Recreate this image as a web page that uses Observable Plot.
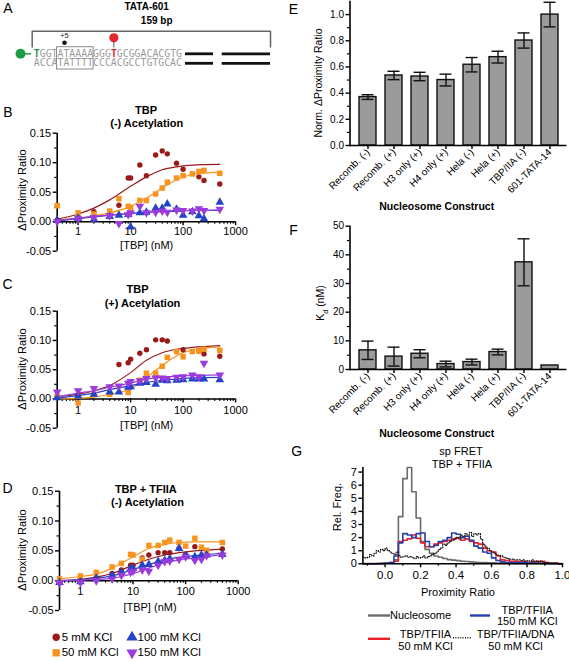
<!DOCTYPE html>
<html><head><meta charset="utf-8">
<script src="https://cdn.jsdelivr.net/npm/d3@7"></script>
<script src="https://cdn.jsdelivr.net/npm/@observablehq/plot@0.6"></script>
<style>
body{margin:0;background:#fff;}
#fig{position:relative;width:569px;height:662px;overflow:hidden;font-family:"Liberation Sans",Arial,sans-serif;color:#000;background:#fff;}
#fig svg{position:absolute;overflow:visible;}
.t{position:absolute;white-space:nowrap;line-height:1;}
</style></head><body><div id="fig"></div>
<script>
// ---------------- DATA ----------------
// Panel A
const topStrand = "TGGTATAAAAGGGTGCGGACACGTG";
const bottomStrand = "ACCATATTTTCCCACGCCTGTGCAC";

// Panels B-D: titration concentrations (nM)
const conc = [0.4, 1, 2, 4, 6, 9, 10, 15, 20, 30, 40, 50, 75, 100, 150, 200, 250, 500];
const kclLabels = ["5 mM KCl", "50 mM KCl", "100 mM KCl", "150 mM KCl"];

// Panel B: TBP (-) Acetylation
const B_5   = [0.003, 0.008, 0.017, null, 0.028, 0.074, 0.074, 0.096, 0.078, 0.113, 0.120, 0.115, 0.099, 0.089, null, 0.076, 0.070, 0.064];
const B_50  = [0.027, 0.015, 0.013, 0.018, 0.039, 0.026, 0.024, 0.036, 0.036, 0.047, 0.057, 0.067, 0.074, 0.078, 0.081, 0.085, 0.087, 0.082];
const B_100 = [0.002, 0.006, 0.004, 0.009, 0.011, 0.012, -0.009, 0.015, 0.016, 0.023, 0.023, 0.030, 0.021, 0.011, 0.017, 0.010, 0.005, 0.033];
const B_150 = [0.000, 0.005, 0.007, 0.010, -0.003, 0.012, 0.015, 0.026, 0.015, 0.016, 0.018, 0.016, 0.020, 0.019, 0.018, 0.022, 0.019, 0.021];
// Panel C: TBP (+) Acetylation
const C_5   = [0.005, 0.007, null, 0.010, 0.059, 0.062, 0.068, 0.078, 0.084, 0.101, 0.101, 0.099, null, 0.084, null, 0.082, 0.077, 0.073];
const C_50  = [0.005, -0.007, 0.008, 0.008, null, 0.011, null, 0.032, 0.044, 0.044, 0.056, 0.071, 0.081, 0.072, 0.081, 0.082, 0.085, 0.083];
const C_100 = [0.002, 0.005, 0.008, 0.012, 0.012, 0.020, 0.021, 0.027, 0.028, 0.025, 0.032, 0.031, 0.032, 0.033, 0.034, 0.034, 0.034, 0.033];
const C_150 = [0.012, 0.014, 0.018, 0.021, 0.022, 0.027, 0.030, 0.031, 0.035, 0.036, 0.036, 0.035, 0.037, 0.038, 0.041, 0.038, 0.061, 0.041];
// Panel D: TBP + TFIIA (-) Acetylation
const D_5   = [-0.002, 0.003, 0.005, 0.012, 0.018, 0.026, 0.026, 0.038, 0.043, 0.047, 0.047, 0.047, 0.054, 0.044, 0.057, 0.037, null, 0.053];
const D_50  = [0.003, 0.008, 0.014, 0.023, 0.029, 0.044, 0.043, 0.036, 0.059, 0.059, 0.064, 0.068, 0.064, 0.058, 0.071, 0.056, 0.051, 0.064];
const D_100 = [-0.003, -0.002, 0.004, 0.009, 0.014, 0.020, 0.021, 0.026, 0.027, 0.032, 0.034, 0.037, 0.054, 0.042, 0.040, 0.043, 0.043, 0.044];
const D_150 = [-0.004, -0.003, 0.000, 0.003, 0.009, 0.014, 0.016, 0.018, 0.016, 0.026, 0.032, 0.033, 0.036, 0.040, 0.034, 0.036, 0.042, 0.043];

// Fitted curves, values at these concentrations
const fitConc = [0.4, 1, 2, 4, 10, 20, 40, 75, 150, 500];
const B_fit5   = [0.004, 0.013, 0.023, 0.037, 0.060, 0.076, 0.088, 0.093, 0.096, 0.097];
const B_fit50  = [0.003, 0.006, 0.010, 0.015, 0.026, 0.040, 0.057, 0.071, 0.080, 0.084];
const B_fit100 = [0.001, 0.005, 0.008, 0.011, 0.014, 0.016, 0.017, 0.018, 0.019, 0.019];
const B_fit150 = [0.002, 0.006, 0.009, 0.011, 0.014, 0.016, 0.018, 0.019, 0.019, 0.020];
const C_fit5   = [0.004, 0.008, 0.014, 0.023, 0.045, 0.066, 0.079, 0.085, 0.088, 0.091];
const C_fit50  = [0.000, 0.001, 0.003, 0.008, 0.017, 0.037, 0.057, 0.074, 0.084, 0.089];
const C_fit100 = [0.001, 0.006, 0.010, 0.016, 0.023, 0.028, 0.032, 0.034, 0.036, 0.037];
const C_fit150 = [0.004, 0.010, 0.014, 0.020, 0.027, 0.034, 0.037, 0.039, 0.040, 0.041];
const D_fit5   = [0.000, 0.002, 0.006, 0.012, 0.026, 0.036, 0.043, 0.047, 0.050, 0.053];
const D_fit50  = [0.003, 0.007, 0.011, 0.021, 0.040, 0.054, 0.061, 0.064, 0.065, 0.065];
const D_fit100 = [0.000, 0.002, 0.004, 0.008, 0.019, 0.027, 0.035, 0.039, 0.042, 0.046];
const D_fit150 = [0.000, 0.001, 0.002, 0.004, 0.012, 0.021, 0.030, 0.035, 0.038, 0.044];

// Panels E-F
const constructs = ["Recomb. (-)", "Recomb. (+)", "H3 only (+)", "H4 only (+)", "Hela (-)", "Hela (+)", "TBP/IIA (-)", "601-TATA-14"];
const normPR    = [0.370, 0.535, 0.527, 0.500, 0.617, 0.675, 0.802, 1.000];
const normPRerr = [0.018, 0.032, 0.032, 0.045, 0.055, 0.045, 0.058, 0.094];
const kd    = [6.7, 4.5, 5.5, 1.9, 2.6, 6.1, 37.4, 1.4];
const kdErr = [3.2, 3.3, 1.4, 1.0, 1.0, 1.0, 8.2, 0];

// Panel G: spFRET histograms (bins start at -0.125)
const histStart = -0.125;
const binWide = 0.025, binNarrow = 0.0125;
const histNucleosome = [0.02,0.02,0.02,0.03,0.03,0.05,0.08,0.3,3.6,6.5,7.35,5.5,3.5,1.7,1.1,0.8,0.6,0.5,0.4,0.32,0.28,0.24,0.2,0.17,0.15,0.12,0.1,0.09,0.08,0.07,0.06,0.05,0.04,0.04,0.03,0.03,0.03,0.02,0.02,0.02,0.02,0.01,0.01,0.01,0.01];
const histTFIIA150 = [0,0,0,0,0.02,0.05,0.1,0.6,1.6,2.3,2.2,2.0,2.3,2.35,1.7,1.3,1.4,1.7,1.8,2.0,2.35,2.25,2.0,2.1,1.8,1.35,1.2,0.9,0.8,0.45,0.25,0.15,0.1,0.1,0.08,0.1,0.1,0.05,0.05,0.05,0.03,0.03,0.02,0.02,0];
const histTFIIA50  = [0,0,0,0,0.02,0.05,0.1,0.2,1.7,1.8,1.9,2.2,1.95,1.6,1.3,1.3,1.5,1.6,1.7,1.8,1.9,2.0,1.8,1.9,1.7,1.6,1.5,1.2,1.0,0.9,0.6,0.3,0.25,0.2,0.2,0.15,0.15,0.1,0.15,0.2,0.2,0.1,0.05,0.05,0];
const histDNA50 = [0.5,0.45, 0.5,0.7,0.6,0.8, 1.0,0.9,1.1,1.0, 1.2,1.0,0.9,0.8, 0.7,0.9,0.6,0.5, 0.55,0.6,0.5,0.55, 0.5,0.4,0.55,0.45, 0.5,0.6,0.45,0.55, 0.6,0.7,0.8,0.9, 1.1,1.2,1.5,1.4, 1.6,1.7,1.8,1.9, 2.0,1.9,2.2,2.1, 2.3,2.2,2.4,2.1, 2.3,2.2,2.3,1.9, 1.5,1.3,1.2,1.0, 0.9,0.8,0.7,0.65, 0.6,0.5,0.45,0.4, 0.35,0.35,0.3,0.3, 0.3,0.25,0.3,0.2, 0.25,0.2,0.3,0.2, 0.2,0.15,0.2,0.1, 0.1,0.1,0.05,0.05, 0.05,0.05,0,0];
const gLegendNames = ["Nucleosome", "TBP/TFIIA\n150 mM KCl", "TBP/TFIIA\n50 mM KCl", "TBP/TFIIA/DNA\n50 mM KCl"];

// ---------------- STYLE ----------------
const FONT = "Liberation Sans, Arial, sans-serif";
const serColors = ["#9a1a1a", "#f7931e", "#2343c8", "#9b3bdc"];
const symDown = { draw(context, size) { const s3 = Math.sqrt(3); const y = -Math.sqrt(size / (s3 * 3)); context.moveTo(0, -y * 2); context.lineTo(-s3 * y, y); context.lineTo(s3 * y, y); context.closePath(); } };
const syms = ["circle", "square", "triangle", symDown];
const symR = [2.7, 3.1, 3.2, 3.2];
const ID = {type: "identity", axis: null};

const fig = document.getElementById("fig");
function place(svg, left, top) { svg.style.left = left + "px"; svg.style.top = top + "px"; fig.appendChild(svg); }
function txt(html, x, y, o = {}) {
  const d = document.createElement("div");
  d.className = "t";
  d.innerHTML = html;
  const size = o.size || 11, w = o.weight || "normal", rot = o.rotate || 0;
  d.style.left = x + "px"; d.style.top = y + "px";
  d.style.fontSize = size + "px"; d.style.fontWeight = w;
  d.style.transform = `translate(-50%,-50%) rotate(${rot}deg)`;
  fig.appendChild(d);
}
const baseStyle = {fontFamily: FONT, fontSize: "11px", background: "none", overflow: "visible", color: "#000"};

// ---------------- PANEL A ----------------
{
  const cw = 5.93, x0 = 33.3;
  const cx = i => x0 + cw * i;
  const mono = "DejaVu Sans Mono, Liberation Mono, monospace";
  const yTop = 53.3, yBot = 62.8;
  // segments of the top strand: [start index, end index, colour, bold]
  const segs = [[0, 1, "#1d9a45", true], [1, 13, "#9a9a9a", false], [13, 14, "#e3262b", true], [14, topStrand.length, "#9a9a9a", false]];
  const seqText = segs.map(([a, b, col, bold]) => ({s: topStrand.slice(a, b), x: cx(a), y: yTop, col, bold}));
  seqText.push({s: bottomStrand, x: cx(0), y: yBot, col: "#9a9a9a", bold: false});
  const bracketX = [31.7, 270];
  const bars = [[185, 213], [221.7, 270]];
  const barLines = [];
  bars.forEach(([a, b]) => { barLines.push({x1: a, x2: b, y: yTop}); barLines.push({x1: a, x2: b, y: yBot}); });
  const svg = Plot.plot({
    width: 290, height: 80, margin: 0, style: baseStyle,
    x: ID, y: ID,
    marks: [
      Plot.line([[bracketX[0], 46.5], [bracketX[0], 30.7], [bracketX[1], 30.7], [bracketX[1], 46.5]], {stroke: "#666", strokeWidth: 1.5}),
      Plot.rect([{x1: cx(4) - 0.5, x2: cx(10) + 0.5, y1: 46.7, y2: 69}], {x1: "x1", x2: "x2", y1: "y1", y2: "y2", fill: "none", stroke: "#8a8a8a", strokeWidth: 1}),
      Plot.ruleY(barLines, {x1: "x1", x2: "x2", y: "y", stroke: "#111", strokeWidth: 2.8}),
      Plot.ruleY([{x1: 20, x2: 31, y: yTop}], {x1: "x1", x2: "x2", y: "y", stroke: "#1d9a45", strokeWidth: 1.5}),
      Plot.dot([{x: 20, y: yTop}], {x: "x", y: "y", r: 5, fill: "#1d9a45"}),
      Plot.ruleX([{x: cx(13.5), y1: 40, y2: 47.5}], {x: "x", y1: "y1", y2: "y2", stroke: "#555", strokeWidth: 1}),
      Plot.dot([{x: cx(13.5), y: 37.3}], {x: "x", y: "y", r: 4.6, fill: "#e3262b"}),
      Plot.dot([{x: 64, y: 42.3}], {x: "x", y: "y", r: 2.3, fill: "#111"}),
      Plot.text([{x: 64, y: 35}], {x: "x", y: "y", text: () => "+5", fontSize: 7.5, fill: "#222"}),
      Plot.text(seqText.filter(d => !d.bold), {x: "x", y: "y", text: "s", fill: "col", fontSize: 9.85, fontFamily: mono, textAnchor: "start"}),
      Plot.text(seqText.filter(d => d.bold), {x: "x", y: "y", text: "s", fill: "col", fontSize: 9.85, fontFamily: mono, fontWeight: "bold", textAnchor: "start"})
    ]
  });
  place(svg, 0, 0);
}

// ---------------- PANELS B-D ----------------
const xMajor = [1, 10, 100, 1000];
const xMinor = [0.5,0.6,0.7,0.8,0.9,2,3,4,5,6,7,8,9,20,30,40,50,60,70,80,90,200,300,400,500,600,700,800,900];
const yMajorB = [-0.05, 0, 0.05, 0.10, 0.15];
const yMinorB = [-0.025, 0.025, 0.075, 0.125];

function binding(left, top, ml, mr, mt, mb, series, fits, pad) {
  const W = 245, H = 130;
  const innerH = H - mt - mb;
  const zeroOff = innerH * 0.05 / 0.20;
  const marks = [
    Plot.ruleY([0], {strokeWidth: 1.6}),
    Plot.ruleX([0.4], {strokeWidth: 1.6}),
    Plot.axisY(yMajorB, {tickSize: 4, tickPadding: 2, strokeWidth: 1.4, tickFormat: d => d.toFixed(2), label: null, fontSize: 11}),
    Plot.axisY(yMinorB, {tickSize: 2.5, strokeWidth: 1.2, tickFormat: () => "", label: null}),
    Plot.axisX(xMajor, {tickSize: 4, tickPadding: pad, strokeWidth: 1.4, dy: -zeroOff, tickFormat: d => String(d), label: null, fontSize: 11}),
    Plot.axisX(xMinor, {tickSize: 2.5, strokeWidth: 1.1, dy: -zeroOff, tickFormat: () => "", label: null})
  ];
  fits.forEach((vals, k) => {
    marks.push(Plot.line(fitConc.map((c, i) => ({c, v: vals[i]})), {x: "c", y: "v", stroke: serColors[k], strokeWidth: 1.2, curve: "monotone-x"}));
  });
  series.forEach((vals, k) => {
    const d = conc.map((c, i) => ({c, v: vals[i]})).filter(d => d.v != null);
    marks.push(Plot.dot(d, {x: "c", y: "v", symbol: syms[k], r: symR[k], fill: serColors[k], stroke: "none"}));
  });
  const svg = Plot.plot({
    width: W, height: H, marginLeft: ml, marginRight: mr, marginTop: mt, marginBottom: mb,
    style: baseStyle,
    x: {type: "log", domain: [0.4, 1000]},
    y: {domain: [-0.05, 0.15]},
    marks
  });
  place(svg, left, top);
}
binding(0, 125, 56.7, 9.9, 7.7, 4.3, [B_5, B_50, B_100, B_150], [B_fit5, B_fit50, B_fit100, B_fit150], 1.5);
binding(0, 305, 56.7, 9.9, 5.7, 7.3, [C_5, C_50, C_100, C_150], [C_fit5, C_fit50, C_fit100, C_fit150], 3);
binding(0, 485, 59, 7.3, 5.7, 5, [D_5, D_50, D_100, D_150], [D_fit5, D_fit50, D_fit100, D_fit150], 3);

// Legend for B-D
{
  const colX = [55.7, 131.5], rowY = [16.7, 32.3];
  const items = kclLabels.map((name, k) => {
    const pos = [[0, 0], [0, 1], [1, 0], [1, 1]][k];
    return {name, k, x: colX[pos[0]], y: rowY[pos[1]]};
  });
  const marks = items.map(d => Plot.dot([d], {x: "x", y: "y", symbol: syms[d.k], r: symR[d.k] + 1, fill: serColors[d.k]}));
  marks.push(Plot.text(items, {x: d => d.x + 5.5, y: "y", text: "name", textAnchor: "start", fontSize: 11.5}));
  const svg = Plot.plot({width: 240, height: 42, margin: 0, style: baseStyle, x: ID, y: ID, marks});
  place(svg, 0, 620);
}

// ---------------- PANELS E-F ----------------
function barPanel(top, H, mt, mb, yDomain, yMajor, yMinor, fmt, vals, errs) {
  const data = constructs.map((c, i) => ({c, v: vals[i], lo: vals[i] - errs[i], hi: vals[i] + errs[i], e: errs[i]}));
  const withErr = data.filter(d => d.e > 0);
  const svg = Plot.plot({
    width: 279, height: H, marginLeft: 59.5, marginRight: 2.5, marginTop: mt, marginBottom: mb,
    style: {...baseStyle, fontSize: "10px"},
    x: {domain: constructs, paddingInner: 0.35, paddingOuter: 0.2},
    y: {domain: yDomain},
    marks: [
      Plot.barY(data, {x: "c", y: "v", fill: "#9b9b9b", stroke: "#111", strokeWidth: 1.4}),
      Plot.ruleX(withErr, {x: "c", y1: "lo", y2: "hi", stroke: "#111", strokeWidth: 1.4}),
      Plot.tickY(withErr, {x: "c", y: "lo", stroke: "#111", strokeWidth: 1.4, insetLeft: 2.5, insetRight: 2.5}),
      Plot.tickY(withErr, {x: "c", y: "hi", stroke: "#111", strokeWidth: 1.4, insetLeft: 2.5, insetRight: 2.5}),
      Plot.ruleY([yDomain[0]], {strokeWidth: 1.6}),
      Plot.frame({anchor: "left", strokeWidth: 1.6}),
      Plot.axisY(yMajor, {tickSize: 4, tickPadding: 2, strokeWidth: 1.4, tickFormat: fmt, label: null, fontSize: 10}),
      Plot.axisY(yMinor, {tickSize: 2.5, strokeWidth: 1.2, tickFormat: () => "", label: null}),
      Plot.axisX({tickRotate: -45, tickSize: 4, tickPadding: 1, strokeWidth: 1.4, label: null, fontSize: 10})
    ]
  });
  place(svg, 290, top);
}
barPanel(0, 215, 1, 70, [0, 1.1], [0, 0.2, 0.4, 0.6, 0.8, 1.0], [0.1, 0.3, 0.5, 0.7, 0.9], d => d.toFixed(1), normPR, normPRerr);
barPanel(220, 220, 5.7, 71, [0, 50], [0, 10, 20, 30, 40, 50], [5, 15, 25, 35, 45], d => String(d), kd, kdErr);

// ---------------- PANEL G ----------------
function steps(vals, w) {
  const d = vals.map((v, i) => ({x: histStart + i * w, y: v}));
  d.push({x: histStart + vals.length * w, y: vals[vals.length - 1]});
  return d;
}
{
  const svg = Plot.plot({
    width: 279, height: 140, marginLeft: 72.4, marginRight: 7, marginTop: 7, marginBottom: 36.7,
    style: baseStyle,
    x: {domain: [-0.125, 1.0]},
    y: {domain: [0, 7.35]},
    marks: [
      Plot.line(steps(histNucleosome, binWide), {x: "x", y: "y", curve: "step-after", stroke: "#6b6b6b", strokeWidth: 1.6}),
      Plot.line(steps(histTFIIA50, binWide), {x: "x", y: "y", curve: "step-after", stroke: "#e8222b", strokeWidth: 1.6}),
      Plot.line(steps(histTFIIA150, binWide), {x: "x", y: "y", curve: "step-after", stroke: "#2540a8", strokeWidth: 1.6}),
      Plot.line(steps(histDNA50, binNarrow), {x: "x", y: "y", curve: "step-after", stroke: "#111", strokeWidth: 1.2, strokeDasharray: "1,1.6"}),
      Plot.ruleY([0], {strokeWidth: 1.6}),
      Plot.ruleX([-0.125], {strokeWidth: 1.6}),
      Plot.axisY([0, 1, 2, 3, 4, 5, 6, 7], {tickSize: 4, tickPadding: 2, strokeWidth: 1.4, label: null, fontSize: 11}),
      Plot.axisX([0, 0.2, 0.4, 0.6, 0.8, 1.0], {tickSize: 4, tickPadding: 3, strokeWidth: 1.4, tickFormat: d => d.toFixed(1), label: null, fontSize: 11.5}),
      Plot.axisX([-0.1, 0.1, 0.3, 0.5, 0.7, 0.9], {tickSize: 2.5, strokeWidth: 1.2, tickFormat: () => "", label: null})
    ]
  });
  place(svg, 290, 460);
}
// Legend for G
{
  const lineCols = ["#6b6b6b", "#2540a8", "#e8222b", "#111"];
  const dashes = [null, null, null, "1,1.4"];
  const lineX = [[78, 100], [180, 200], [78, 100], [163, 181]];
  const lineY = [15, 15, 38.3, 37.3];
  const textX = [130, 236.7, 135, 225];
  const textY = [15, 15.5, 40, 40];
  const items = gLegendNames.map((name, i) => ({name, i, x1: lineX[i][0], x2: lineX[i][1], ly: lineY[i], tx: textX[i], ty: textY[i]}));
  const marks = items.map(d => Plot.ruleY([d], {x1: "x1", x2: "x2", y: "ly", stroke: lineCols[d.i], strokeWidth: d.i === 3 ? 1.6 : 2.4, strokeDasharray: dashes[d.i]}));
  marks.push(Plot.text(items, {x: "tx", y: "ty", text: "name", fontSize: 11, lineHeight: 1.05}));
  const svg = Plot.plot({width: 279, height: 62, margin: 0, style: baseStyle, x: ID, y: ID, marks});
  place(svg, 290, 600);
}

// ---------------- TEXT ----------------
txt("A", 8, 8, {size: 14}); txt("B", 8, 111.7, {size: 14}); txt("C", 7.5, 284, {size: 14}); txt("D", 7.5, 488, {size: 14});
txt("E", 293.5, 8.5, {size: 14}); txt("F", 293.5, 230, {size: 14}); txt("G", 296.7, 450.7, {size: 14});
txt("TATA-601", 146.7, 6.5, {size: 10, weight: "bold"});
txt("159 bp", 156.7, 20.7, {size: 10, weight: "bold"});
txt("TBP", 146, 110, {size: 11, weight: "bold"}); txt("(-) Acetylation", 146.7, 122.7, {size: 11, weight: "bold"});
txt("TBP", 137.5, 289.3, {size: 11, weight: "bold"}); txt("(+) Acetylation", 142.5, 303.3, {size: 11, weight: "bold"});
txt("TBP + TFIIA", 145.8, 489.3, {size: 11, weight: "bold"}); txt("(-) Acetylation", 147.5, 501.7, {size: 11, weight: "bold"});
[190, 368.5, 550].forEach(y => txt("ΔProximity Ratio", 21.7, y, {size: 11, rotate: -90}));
txt("[TBP] (nM)", 146.7, 244.5, {size: 11}); txt("[TBP] (nM)", 146.7, 425, {size: 11}); txt("[TBP] (nM)", 150, 606.7, {size: 11});
txt("Norm. ΔProximity Ratio", 318.3, 83.3, {size: 10.5, rotate: -90});
txt("Nucleosome Construct", 436.7, 205.7, {size: 10.5, weight: "bold"});
txt("K<sub style='font-size:7px'>d</sub> (nM)", 321.7, 303.3, {size: 10.5, rotate: -90});
txt("Nucleosome Construct", 436.7, 432.5, {size: 10.5, weight: "bold"});
txt("sp FRET", 461, 451, {size: 11}); txt("TBP + TFIIA", 462, 463.5, {size: 11});
txt("Rel. Freq.", 336.7, 506.7, {size: 11, rotate: -90});
txt("Proximity Ratio", 458, 591.7, {size: 11});
</script></body></html>
